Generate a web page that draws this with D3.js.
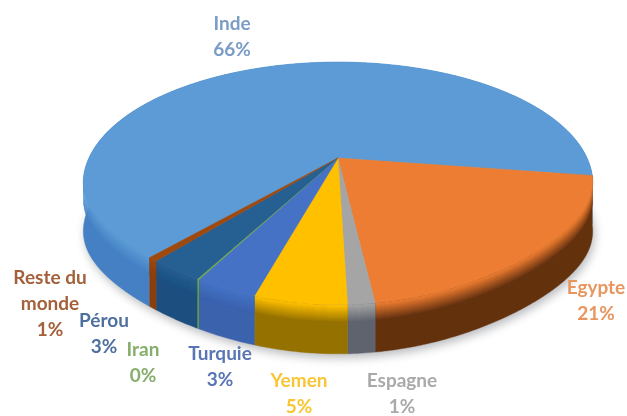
<!DOCTYPE html>
<html><head><meta charset="utf-8">
<script src="https://cdn.jsdelivr.net/npm/d3@7/dist/d3.min.js"></script>
<style>html,body{margin:0;padding:0;background:#fff}svg{display:block}</style>
</head><body><script>
const categories = ["Inde","Egypte","Espagne","Yemen","Turquie","Iran","Pérou","Reste du monde"];
const values = [66.5,20.7,1.4,4.8,3.2,0.1,2.8,0.5];
const percentLabels = ["66%","21%","1%","5%","3%","0%","3%","1%"];
const faceColors = ["#5b9bd5","#ed7d31","#a5a5a5","#ffc000","#4472c4","#70ad47","#255e91","#9e480e"];
const rimColors = ["#4480c4","#633111","#5f636e","#957100","#3a62ad","#5d9a3c","#1c4f80","#8a3f0c"];
const textColors = ["#7a9cc6","#e8965f","#a9a9a9","#f8c632","#5a75b5","#85ae6c","#4f6f9f","#a4613a"];
const labelLines = [["Inde"],["Egypte"],["Espagne"],["Yemen"],["Turquie"],["Iran"],["Pérou"],["Reste du","monde"]];
const labelAnchors = [[232,30],[596,294],[402,387],[299,387],[220,360],[143,356],[104,327],[50,284]];

const W=627,H=416,cx=338,apexY=158,k=0.21,ay=116,bx=249,depth=49,flatten=8;
const startDeg=-140.7;
const svg=d3.select("body").append("svg").attr("width",W).attr("height",H);
const defs=svg.append("defs");
defs.append("filter").attr("id","sh").attr("x","-20%").attr("y","-20%").attr("width","140%").attr("height","140%")
  .append("feGaussianBlur").attr("stdDeviation",5);
defs.append("filter").attr("id","soft").append("feGaussianBlur").attr("stdDeviation",0.45);
defs.append("filter").attr("id","rimSoft").append("feGaussianBlur").attr("stdDeviation",0.5);
defs.append("filter").attr("id","txt").append("feGaussianBlur").attr("stdDeviation",0.4);

const pie=d3.pie().sort(null).value(d=>d)
  .startAngle(startDeg*Math.PI/180).endAngle((startDeg+360)*Math.PI/180);
const arcs=pie(values);
// perspective projection of the pie's unit disc, slightly flattened at the front corners
const proj=a=>{
  const x=Math.sin(a),y=-Math.cos(a),d=1-k*y;
  const warp=y>0?flatten*4*(x*y)*(x*y):0;
  return [cx+bx*x/d,apexY+ay*y/d-warp];
};
const arcPts=(a0,a1)=>{const n=Math.max(2,Math.ceil((a1-a0)/0.01));return d3.range(n+1).map(i=>proj(a0+(a1-a0)*i/n));};
const line=d3.line().curve(d3.curveLinear);

// shadow
const full=arcPts(0,2*Math.PI);
svg.append("path").attr("d",line(full)+"Z").attr("fill","#7f8288").attr("opacity",.55)
  .attr("transform",`translate(2,${depth+4})`).attr("filter","url(#sh)");

// rim: a solid extruded wall, then a soft band of thin layers under the top edge
const rimG=svg.append("g").attr("filter","url(#rimSoft)");
const bandDepth=depth*0.34;
const bandLayers=d3.range(bandDepth,-0.1,-0.5);
const bandT=d3.scaleLinear().domain([0,bandDepth]).range([0,1]).clamp(true);
arcs.forEach((s,i)=>{
  const pts=arcPts(s.startAngle,s.endAngle);
  const wall=pts.concat(pts.map(p=>[p[0],p[1]+depth]).reverse());
  rimG.append("path").attr("d",line(wall)+"Z").attr("fill",rimColors[i]).attr("stroke",rimColors[i]).attr("stroke-width",.4);
  bandLayers.forEach(l=>{
    const col=d3.interpolateRgb(faceColors[i],rimColors[i])(bandT(l));
    const a=pts.map(p=>[p[0],p[1]+l]);
    const b=pts.map(p=>[p[0],p[1]+l+1]).reverse();
    rimG.append("path").attr("d",line(a.concat(b))+"Z").attr("fill",col);
  });
});

// top face
const topG=svg.append("g").attr("filter","url(#soft)");
arcs.forEach((s,i)=>{
  const pts=[[cx,apexY]].concat(arcPts(s.startAngle,s.endAngle));
  topG.append("path").attr("d",line(pts)+"Z").attr("fill",faceColors[i]).attr("stroke",faceColors[i]).attr("stroke-width",.4);
});

// labels
const lg=svg.append("g").attr("font-family","Lato, 'Open Sans', sans-serif").attr("font-weight",700)
  .attr("font-size",19).attr("text-anchor","middle").attr("filter","url(#txt)");
categories.forEach((c,i)=>{
  const [x,y]=labelAnchors[i];
  const rows=labelLines[i].concat([percentLabels[i]]);
  rows.forEach((t,j)=>lg.append("text").attr("x",x).attr("y",y+j*26).attr("fill",textColors[i]).text(t));
});
</script></body></html>
